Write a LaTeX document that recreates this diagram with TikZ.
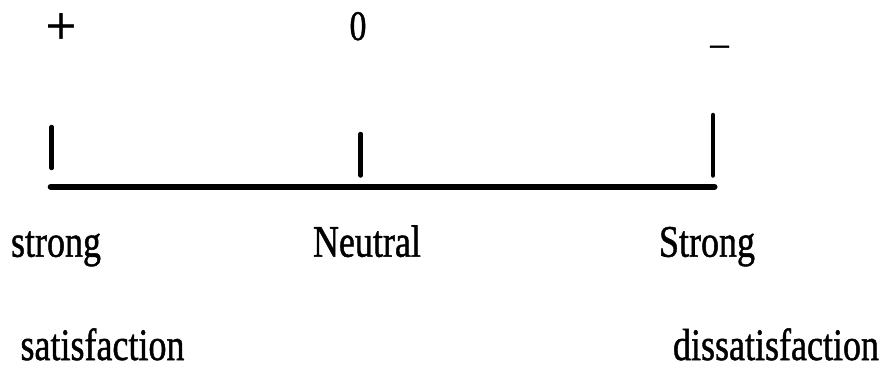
\documentclass[tikz,border=0pt]{standalone}
\usepackage{fontspec}
\usepackage{graphicx}
\setmainfont{Liberation Serif}[FakeBold=1.2]
\tikzset{
  lbl/.style={inner sep=0pt, outer sep=0pt, anchor=base west, font=\fontsize{45}{50}\selectfont},
  sign/.style={inner sep=0pt, outer sep=0pt, anchor=base, font=\fontsize{37}{40}\selectfont},
  tick/.style={line width=4.5pt, line cap=round},
  axis/.style={line width=6pt, line cap=round}
}
\newcommand{\squeeze}[1]{\scalebox{0.8}[1]{#1}}
\begin{document}
\begin{tikzpicture}[x=1pt,y=-1pt]
\useasboundingbox (0,0) rectangle (886,369);
% sign labels
\node[sign, font=\fontsize{54}{60}\selectfont] (plus) at (61,44) {+};
\node[sign, font=\fontsize{42}{46}\selectfont] (zero) at (358,40) {\squeeze{0}};
\node[sign] (minus) at (719.5,55.4) {–};
% ticks
\coordinate (lt) at (51.7,127);
\coordinate (lb) at (51.7,168);
\coordinate (mt) at (360.7,134);
\coordinate (mb) at (360.7,175.5);
\coordinate (rt) at (713,115);
\coordinate (rb) at (713,175.5);
\coordinate (al) at (50.7,186.7);
\coordinate (ar) at (714.5,186.7);
\draw[tick] (lt) -- (lb);
\draw[tick] (mt) -- (mb);
\draw[tick] (rt) -- (rb);
\draw[axis] (al) -- (ar);
% words
\node[lbl] (strongl) at (11,256.7) {\squeeze{strong}};
\node[lbl] (neutral) at (313,256.7) {\squeeze{Neutral}};
\node[lbl] (strongr) at (659,256.7) {\squeeze{Strong}};
\node[lbl] (sat) at (20.5,360) {\squeeze{satisfaction}};
\node[lbl] (dissat) at (673,360) {\squeeze{dissatisfaction}};
\end{tikzpicture}
\end{document}
